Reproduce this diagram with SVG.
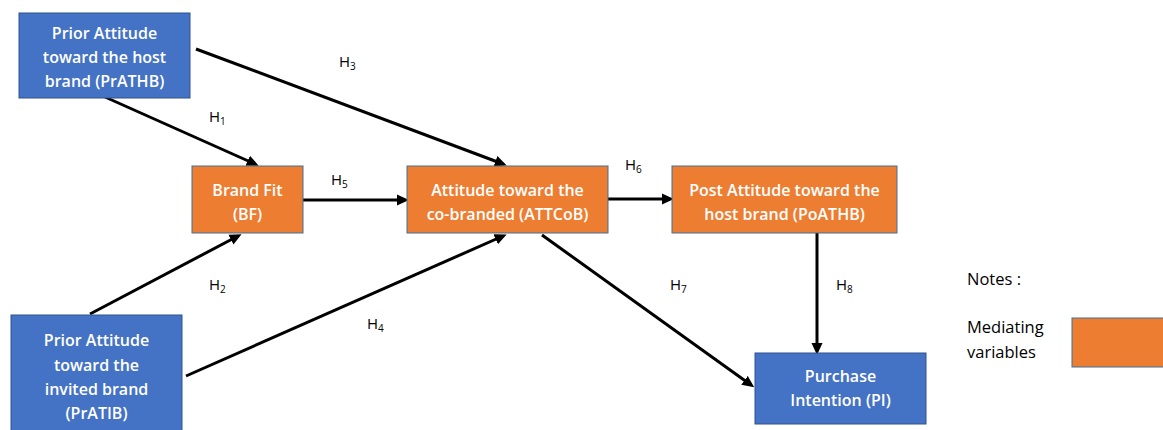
<svg xmlns="http://www.w3.org/2000/svg" width="1163" height="430" viewBox="0 0 1163 430">
<style>
.blue{fill:#4472C4;stroke:#2F528F;stroke-width:1}
.orange{fill:#ED7D31;stroke:#41719C;stroke-width:1}
.nt{font-family:"Open Sans","Liberation Sans",sans-serif;font-size:16px;font-weight:600;fill:#fff;text-anchor:middle}
.lb{font-family:"Open Sans","Liberation Sans",sans-serif;font-size:15px;fill:#000}
.sub{font-size:10px}
.lg{font-family:"Open Sans","Liberation Sans",sans-serif;font-size:16.5px;fill:#000}
.cn{stroke:#000;stroke-width:3;fill:none;marker-end:url(#ah)}
</style>
<defs>
<marker id="ah" markerWidth="12" markerHeight="12" refX="8" refY="6" orient="auto" markerUnits="userSpaceOnUse" viewBox="0 0 12 12">
<path d="M0,0.5 L12,6 L0,11.5 Z" fill="#000"/>
</marker>
</defs>
<rect width="1163" height="430" fill="#fff"/>
<g id="connectors">
<line class="cn" x1="196" y1="49" x2="503" y2="164"/>
<line class="cn" x1="105" y1="97" x2="255" y2="164"/>
<line class="cn" x1="90" y1="314" x2="238" y2="236"/>
<line class="cn" x1="186" y1="376" x2="503" y2="236"/>
<line class="cn" x1="303" y1="200" x2="405" y2="200"/>
<line class="cn" x1="608" y1="199" x2="670" y2="199"/>
<line class="cn" x1="542" y1="235" x2="751" y2="385"/>
<line class="cn" x1="817" y1="233" x2="817" y2="351"/>
</g>
<g id="labels">
<text class="lb" x="339" y="67">H<tspan class="sub" dy="3">3</tspan></text>
<text class="lb" x="209" y="122">H<tspan class="sub" dy="3">1</tspan></text>
<text class="lb" x="331" y="185">H<tspan class="sub" dy="3">5</tspan></text>
<text class="lb" x="625" y="170">H<tspan class="sub" dy="3">6</tspan></text>
<text class="lb" x="209" y="290">H<tspan class="sub" dy="3">2</tspan></text>
<text class="lb" x="367" y="329">H<tspan class="sub" dy="3">4</tspan></text>
<text class="lb" x="670" y="290">H<tspan class="sub" dy="3">7</tspan></text>
<text class="lb" x="836" y="290">H<tspan class="sub" dy="3">8</tspan></text>
</g>
<g id="PrATHB">
<rect class="blue" x="19" y="13" width="171" height="85"/>
<text class="nt" x="104.5" y="39">Prior Attitude</text>
<text class="nt" x="104.5" y="63">toward the host</text>
<text class="nt" x="104.5" y="87">brand (PrATHB)</text>
</g>
<g id="BF">
<rect class="orange" x="192" y="166" width="111" height="67"/>
<text class="nt" x="247.5" y="196">Brand Fit</text>
<text class="nt" x="247.5" y="220">(BF)</text>
</g>
<g id="ATTCoB">
<rect class="orange" x="407" y="166" width="201" height="67"/>
<text class="nt" x="507.5" y="196">Attitude toward the</text>
<text class="nt" x="507.5" y="220">co-branded (ATTCoB)</text>
</g>
<g id="PoATHB">
<rect class="orange" x="672" y="166" width="225" height="67"/>
<text class="nt" x="784.5" y="196">Post Attitude toward the</text>
<text class="nt" x="784.5" y="220">host brand (PoATHB)</text>
</g>
<g id="PrATIB">
<rect class="blue" x="11" y="315" width="171" height="120"/>
<text class="nt" x="96.5" y="346">Prior Attitude</text>
<text class="nt" x="96.5" y="371">toward the</text>
<text class="nt" x="96.5" y="395">invited brand</text>
<text class="nt" x="96.5" y="419">(PrATIB)</text>
</g>
<g id="PI">
<rect class="blue" x="755" y="353" width="171" height="71"/>
<text class="nt" x="840.5" y="382">Purchase</text>
<text class="nt" x="840.5" y="406">Intention (PI)</text>
</g>
<g id="legend">
<text class="lg" x="967" y="285">Notes :</text>
<text class="lg" x="967" y="333">Mediating</text>
<text class="lg" x="967" y="358">variables</text>
<rect class="orange" x="1072" y="318" width="95" height="49"/>
</g>
</svg>
